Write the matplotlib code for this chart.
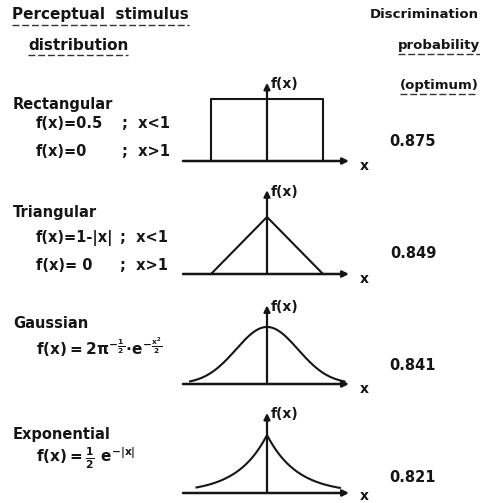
import numpy as np
import matplotlib
matplotlib.use("Agg")
import matplotlib.pyplot as plt

plt.rcParams['font.family'] = ['DejaVu Sans']
plt.rcParams['mathtext.fontset'] = 'custom'
plt.rcParams['mathtext.rm'] = 'DejaVu Sans:bold'
plt.rcParams['mathtext.it'] = 'DejaVu Sans:bold'
plt.rcParams['mathtext.bf'] = 'DejaVu Sans:bold'

# chart content
names = ["Rectangular", "Triangular", "Gaussian", "Exponential"]
formula_lhs = [
    ["f(x)=0.5", "f(x)=0"],
    ["f(x)=1-|x|", "f(x)= 0"],
    [r"$f(x)=2\pi^{-\frac{1}{2}}\!\cdot\! e^{-\frac{x^2}{2}}$"],
    [r"$f(x)=\frac{1}{2}\ e^{-|x|}$"],
]
formula_rhs = [
    [";  x<1", ";  x>1"],
    [";  x<1", ";  x>1"],
    [""],
    [""],
]
probs = [0.875, 0.849, 0.841, 0.821]

# the distributions as stated in the chart
rect_x = [-1, -1, 1, 1]
rect_y = [0, 0.5, 0.5, 0]
tri_x = [-1, 0, 1]
tri_y = [0, 1, 0]
gauss_x = np.linspace(-2.48, 2.5, 200)
gauss_y = np.exp(-gauss_x ** 2 / 2) / np.sqrt(2 * np.pi)
exp_x = np.linspace(-2.35, 2.43, 200)
exp_y = 0.5 * np.exp(-np.abs(exp_x))
curves = [(rect_x, rect_y), (tri_x, tri_y), (gauss_x, gauss_y), (exp_x, exp_y)]

W, H = 480, 503
fig = plt.figure(figsize=(W / 100, H / 100), dpi=100)
ink = '#151515'


def px(x, y):
    return x / W, 1 - y / H


# panel layout (pixels): baseline y, x scale, y scale, arrow top (units)
base_px = [161, 274, 384, 493]
sx = [56, 56, 31, 30]
sy = [124, 57, 143, 116]
ytop = [0.63, 1.47, 0.55, 0.69]
xlab_dy = [-3.5, -3.5, -3.5, -2]
cx = 267
x0_px, x1_px = 183, 349

name_y = [105, 212, 323, 435]
form_y = [[124, 152], [238, 266], [347], [458]]
form_fs = [[10.5, 10.5], [10.5, 10.5], [11], [11]]
semi_x = [122, 120, 0, 0]
prob_y = [142, 253, 365, 477]

for i in range(4):
    b = base_px[i]
    left, right = 170, 375
    top, bot = b - 95, b + 10
    ax = fig.add_axes([left / W, 1 - bot / H, (right - left) / W, (bot - top) / H])
    ax.set_xlim((left - cx) / sx[i], (right - cx) / sx[i])
    ax.set_ylim(-10 / sy[i], 95 / sy[i])
    ax.axis('off')
    xa, xb = (x0_px - cx) / sx[i], (x1_px - cx) / sx[i]
    ax.annotate('', xy=(xb, 0), xytext=(xa, 0),
                arrowprops=dict(arrowstyle='-|>', lw=1.8, color=ink, mutation_scale=9,
                                shrinkA=0, shrinkB=0))
    ax.annotate('', xy=(0, ytop[i]), xytext=(0, 0),
                arrowprops=dict(arrowstyle='-|>', lw=1.6, color=ink, mutation_scale=9,
                                shrinkA=0, shrinkB=0))
    ax.plot(curves[i][0], curves[i][1], color=ink, lw=1.5, clip_on=False)
    ax.annotate('x', xy=(xb, 0), xytext=(8, xlab_dy[i]), textcoords='offset points',
                fontsize=10, fontweight='bold', color=ink, va='center', ha='left')
    ax.annotate('f(x)', xy=(0, ytop[i]), xytext=(3, -1), textcoords='offset points',
                fontsize=10, fontweight='bold', color=ink, va='center', ha='left')

    fig.text(*px(13, name_y[i]), names[i], fontsize=10.5, fontweight='bold',
             color=ink, va='center')
    for j, yy in enumerate(form_y[i]):
        fig.text(*px(36, yy), formula_lhs[i][j], fontsize=form_fs[i][j],
                 fontweight='bold', color=ink, va='center')
        if formula_rhs[i][j]:
            fig.text(*px(semi_x[i], yy), formula_rhs[i][j], fontsize=form_fs[i][j],
                     fontweight='bold', color=ink, va='center')
    fig.text(*px(413, prob_y[i]), f"{probs[i]:.3f}", fontsize=10.5, fontweight='bold',
             color=ink, va='center', ha='center')

# column headings
heads = [
    fig.text(*px(12, 15), "Perceptual  stimulus", fontsize=11, fontweight='bold', color=ink, va='center'),
    fig.text(*px(28, 45), "distribution", fontsize=11, fontweight='bold', color=ink, va='center'),
    fig.text(*px(424, 15), "Discrimination", fontsize=9.5, fontweight='bold', color=ink, va='center', ha='center'),
    fig.text(*px(439, 45), "probability", fontsize=9.5, fontweight='bold', color=ink, va='center', ha='center'),
    fig.text(*px(439, 85), "(optimum)", fontsize=9.5, fontweight='bold', color=ink, va='center', ha='center'),
]
under = [0, 1, 3, 4]
fig.canvas.draw()
r = fig.canvas.get_renderer()
for k in under:
    bb = heads[k].get_window_extent(r)
    y = bb.y0 - 2
    fig.add_artist(plt.Line2D([bb.x0 / W, bb.x1 / W], [y / H, y / H], color='#333333',
                              lw=1.0, ls=(0, (5, 2))))

fig.savefig("out.png", dpi=100)
